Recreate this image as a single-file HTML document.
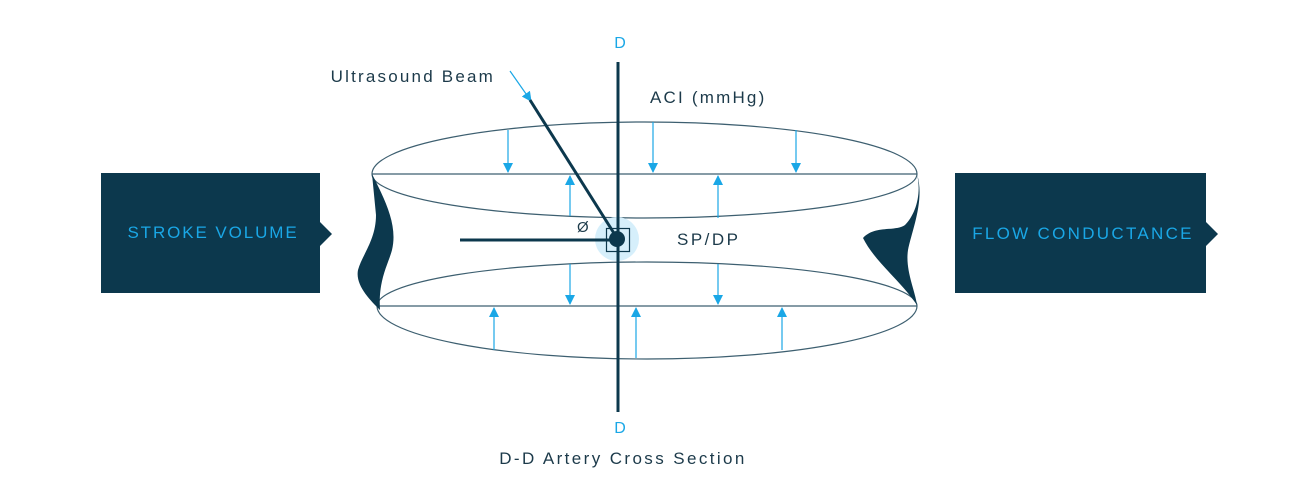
<!DOCTYPE html>
<html><head><meta charset="utf-8"><style>
html,body{margin:0;padding:0;background:#fff;}
svg{display:block;font-family:"Liberation Sans",sans-serif;}
</style></head><body>
<svg width="1293" height="504" viewBox="0 0 1293 504" xmlns="http://www.w3.org/2000/svg">
<defs>
<marker id="ah" viewBox="0 0 10 10" refX="9" refY="5" markerWidth="10" markerHeight="10" markerUnits="userSpaceOnUse" orient="auto"><path d="M0,0 L10,5 L0,10 z" fill="#1aa7e6"/></marker>
</defs>
<path d="M101,173 H320 V222 L332,234 L320,246 V293 H101 Z" fill="#0c384d"/>
<text x="213" y="238" fill="#1aa7e6" font-size="17" text-anchor="middle" letter-spacing="1.9">STROKE VOLUME</text>
<path d="M955,173 H1206 V222 L1218,234 L1206,246 V293 H955 Z" fill="#0c384d"/>
<text x="1083" y="239" fill="#1aa7e6" font-size="17" text-anchor="middle" letter-spacing="2.3">FLOW CONDUCTANCE</text>
<g fill="none" stroke="#3d5f70" stroke-width="1.2">
<path d="M372,174 A272.5,52 0 0 1 917,174"/>
<path d="M372,174 A272.5,44 0 0 0 917,174"/>
<line x1="372" y1="174" x2="917" y2="174"/>
<path d="M377,306 A270,44 0 0 1 917,306"/>
<path d="M377,306 A270,53 0 0 0 917,306"/>
<line x1="377" y1="306" x2="917" y2="306"/>
</g>
<path d="M372,174 C385,200 398,225 392,250 C388,265 378,280 380,310 C370,300 355,285 358,270 C362,255 376,240 376,215 Z" fill="#0c384d"/>
<path d="M917,174 C922,195 915,215 905,225 C895,232 875,225 863,238 C875,262 900,280 917,305 C915,290 905,270 908,250 C912,230 925,200 917,174 Z" fill="#0c384d"/>
<g stroke="#1aa7e6" stroke-width="1.2" marker-end="url(#ah)">
<line x1="508" y1="130" x2="508" y2="172"/>
<line x1="653" y1="122" x2="653" y2="172"/>
<line x1="796" y1="130" x2="796" y2="172"/>
<line x1="570" y1="216" x2="570" y2="176"/>
<line x1="718" y1="218" x2="718" y2="176"/>
<line x1="570" y1="264" x2="570" y2="304"/>
<line x1="718" y1="264" x2="718" y2="304"/>
<line x1="494" y1="350" x2="494" y2="308"/>
<line x1="636" y1="358" x2="636" y2="308"/>
<line x1="782" y1="350" x2="782" y2="308"/>
<line x1="510" y1="71" x2="531" y2="101"/>
</g>
<circle cx="617" cy="239" r="22" fill="#d6effb"/>
<line x1="618" y1="62" x2="618" y2="412" stroke="#0c384d" stroke-width="3"/>
<line x1="530" y1="100" x2="617" y2="238" stroke="#0c384d" stroke-width="3"/>
<line x1="460" y1="240" x2="617" y2="240" stroke="#0c384d" stroke-width="3"/>
<rect x="606.5" y="228.5" width="23" height="23" fill="none" stroke="#0c384d" stroke-width="1.2"/>
<circle cx="617" cy="239" r="8" fill="#0c384d"/>
<text x="620" y="48" fill="#1aa7e6" font-size="16" text-anchor="middle">D</text>
<text x="620" y="433" fill="#1aa7e6" font-size="16" text-anchor="middle">D</text>
<text x="495" y="82" fill="#1c3a4a" font-size="17" text-anchor="end" letter-spacing="2.2">Ultrasound Beam</text>
<text x="650" y="103" fill="#1c3a4a" font-size="17" letter-spacing="2.2">ACI (mmHg)</text>
<text x="677" y="245" fill="#1c3a4a" font-size="17" letter-spacing="2.5">SP/DP</text>
<text x="577" y="232" fill="#1c3a4a" font-size="15">Ø</text>
<text x="623" y="464" fill="#1c3a4a" font-size="17" text-anchor="middle" letter-spacing="2.4">D-D Artery Cross Section</text>
</svg>
</body></html>
